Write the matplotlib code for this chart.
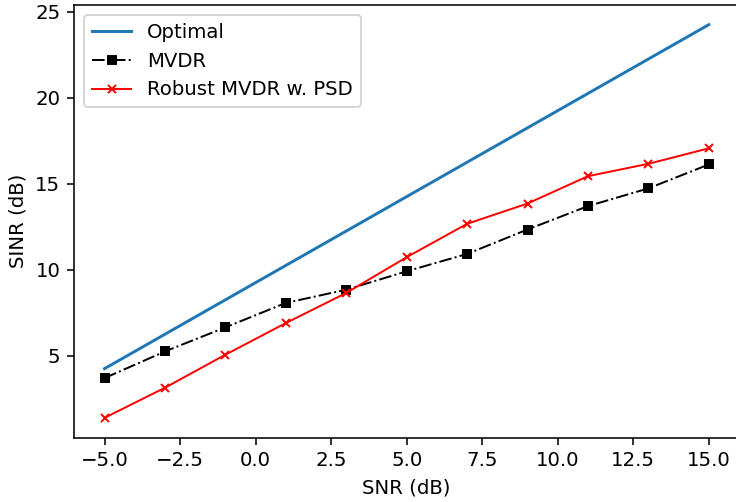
import numpy as np
import matplotlib
matplotlib.use('Agg')
import matplotlib.pyplot as plt

snr = [-5, -3, -1, 1, 3, 5, 7, 9, 11, 13, 15]
optimal = [4.25, 6.25, 8.25, 10.25, 12.25, 14.25, 16.25, 18.25, 20.25, 22.25, 24.25]
mvdr = [3.7, 5.25, 6.65, 8.07, 8.84, 9.91, 10.92, 12.34, 13.7, 14.73, 16.12]
robust = [1.39, 3.14, 5.06, 6.9, 8.65, 10.73, 12.67, 13.85, 15.44, 16.16, 17.06]

dpi = 142
fig = plt.figure(figsize=(736/dpi, 502/dpi), dpi=dpi)
# axes box in pixels; right edge runs a little past the image like the reference crop
ax = fig.add_axes([74.3/736, 64.5/502, 664.7/736, 432.5/502])

ax.plot(snr, optimal, label='Optimal')
ax.plot(snr, mvdr, 'k-.s', lw=1, markersize=4, label='MVDR')
ax.plot(snr, robust, 'r-x', lw=1, markersize=4, label='Robust MVDR w. PSD')

ax.set_xlabel('SNR (dB)')
ax.set_ylabel('SINR (dB)')
ax.legend(loc='upper left')

plt.savefig('out.png', dpi=dpi)
